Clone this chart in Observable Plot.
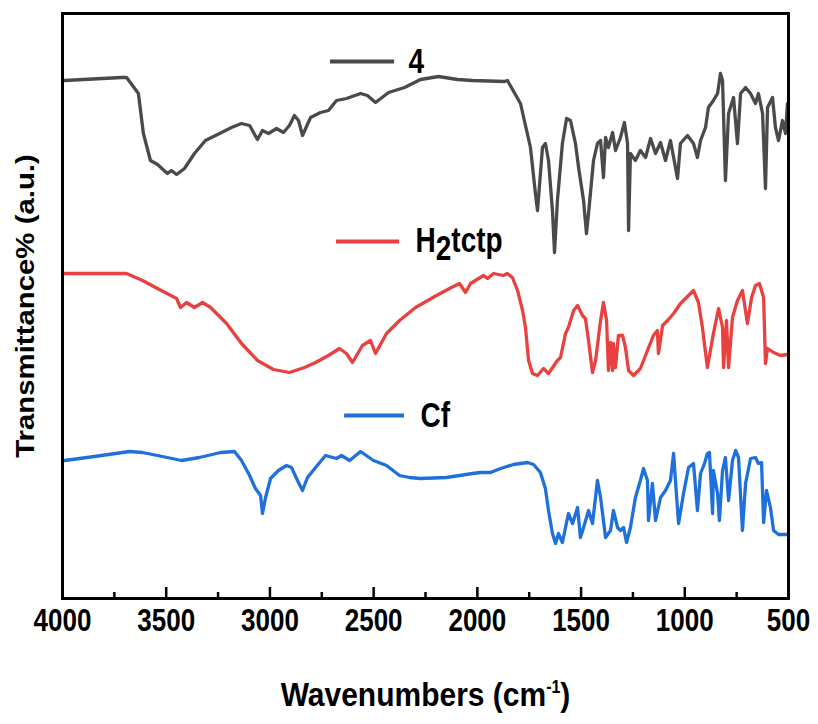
<!DOCTYPE html>
<html><head><meta charset="utf-8">
<script src="https://cdn.jsdelivr.net/npm/d3@7"></script>
<script src="https://cdn.jsdelivr.net/npm/@observablehq/plot@0.6"></script>
<style>
body{margin:0;background:#fff;}
#chart{width:818px;height:724px;}
</style></head><body><div id="chart"></div>
<script>
// ---- data (wavenumber cm-1, transmittance in arbitrary offset units) ----
const seriesNames = ["4", "H2tctp", "Cf"];
const seriesColors = ["#4a4a4a", "#e8413f", "#1f70db"];

const wn4 = [3990,3716,3691,3634,3610,3576,3542,3494,3475,3450,3412,3364,3311,3262,3185,3137,3098,3060,3036,3007,2968,2935,2906,2882,2862,2843,2804,2756,2718,2679,2631,2563,2530,2491,2428,2351,2274,2187,2096,2023,1869,1855,1792,1744,1720,1710,1686,1672,1657,1638,1628,1614,1590,1570,1551,1527,1512,1488,1474,1464,1440,1421,1406,1392,1382,1368,1348,1334,1310,1291,1276,1271,1262,1238,1214,1189,1165,1141,1117,1093,1069,1035,1021,987,958,939,924,900,886,862,842,828,818,804,789,765,746,731,707,683,659,645,625,611,601,577,563,548,529,514,505,500];
const t4 = [518,521,521,505,465,438,434,425,428,424,430,445,458,463,471,475,473,459,468,465,470,466,473,483,478,463,481,486,488,498,500,505,503,496,506,511,519,522,519,518,517,518,495,451,405,388,451,455,438,388,346,398,455,480,478,455,431,398,365,385,438,455,458,421,461,451,466,448,461,476,455,368,445,438,448,441,460,445,456,438,458,420,455,463,455,441,458,471,491,498,505,525,518,418,485,501,455,505,511,505,495,505,485,410,491,501,471,458,478,465,495,490];

const wnH = [3990,3691,3614,3542,3450,3431,3402,3364,3325,3286,3209,3137,3060,2983,2906,2833,2780,2718,2665,2631,2602,2554,2515,2491,2438,2375,2298,2197,2125,2086,2057,2033,1970,1951,1922,1874,1855,1831,1806,1782,1768,1753,1734,1710,1681,1657,1614,1599,1575,1561,1536,1517,1493,1479,1464,1445,1430,1406,1392,1377,1368,1358,1348,1344,1334,1320,1300,1286,1271,1247,1214,1180,1151,1132,1127,1107,1083,1054,1021,982,958,934,915,891,862,837,818,813,799,789,770,746,722,698,678,659,640,620,611,601,572,539,505,500];
const tH = [325,325,318,310,300,291,296,291,296,291,275,255,238,229,226,231,236,243,250,245,236,253,258,245,265,278,291,303,311,315,306,315,323,320,325,323,325,321,308,288,271,238,225,223,230,225,238,241,265,271,288,293,283,280,258,226,238,278,296,278,228,256,228,255,231,263,263,251,228,223,230,248,263,268,245,273,278,285,295,303,308,296,271,231,265,290,271,231,278,231,281,298,308,275,301,313,315,301,235,250,246,243,244,244];

const wnC = [3990,3846,3677,3614,3542,3426,3340,3238,3171,3137,3098,3070,3045,3036,3021,2997,2959,2920,2896,2867,2843,2819,2780,2732,2679,2655,2616,2563,2501,2438,2375,2327,2274,2149,2023,1985,1937,1888,1826,1758,1729,1696,1672,1657,1638,1623,1609,1590,1575,1561,1541,1517,1503,1488,1464,1445,1421,1406,1382,1358,1344,1324,1310,1295,1281,1262,1238,1214,1199,1180,1175,1156,1141,1117,1093,1069,1054,1045,1030,1006,982,958,939,924,905,891,881,866,862,842,833,818,804,789,770,755,741,722,707,683,659,645,630,620,606,587,572,548,505,500];
const tC = [138,142,147,146,143,138,141,146,147,138,123,110,103,85,101,120,128,133,131,118,108,121,131,143,140,143,138,147,138,133,123,121,120,121,125,126,126,130,134,136,134,126,110,88,65,55,65,56,71,85,75,91,61,71,88,75,118,101,61,68,88,71,68,71,56,71,101,118,130,118,78,115,78,101,108,118,145,118,75,105,131,135,88,125,135,145,146,85,128,105,78,128,141,98,138,148,141,68,115,140,141,135,136,76,108,91,68,64,64,64];

const majorTicks = [4000,3500,3000,2500,2000,1500,1000,500];
const minorTicks = [3750,3250,2750,2250,1750,1250,750];
const xTitle = "Wavenumbers (cm-1)";
const yTitle = "Transmittance% (a.u.)";

// ---- legend layout (placement in data coordinates) ----
const legendLineStart = [2708, 2679, 2640];
const legendLineEnd = [2399, 2375, 2351];
const legendTextX = [2332, 2298, 2274];
const legendY = [537, 357, 183];

// ---- build tables ----
function zipSeries(name, wn, t) {
  const n = Math.min(wn.length, t.length);
  const out = [];
  for (let i = 0; i < n; i++) out.push({series: name, wn: wn[i], t: t[i]});
  return out;
}
const rows = [
  ...zipSeries(seriesNames[0], wn4, t4),
  ...zipSeries(seriesNames[1], wnH, tH),
  ...zipSeries(seriesNames[2], wnC, tC)
];
const legendRows = seriesNames.map((s, i) => ({
  series: s, x1: legendLineStart[i], x2: legendLineEnd[i], tx: legendTextX[i], y: legendY[i]
}));

const W = 818, H = 724, mT = 13, mB = 126, mL = 62, mR = 30;
const innerH = H - mT - mB;
const FONT = "'Liberation Sans', Arial, Helvetica, sans-serif";

const svg = Plot.plot({
  width: W, height: H,
  marginTop: mT, marginBottom: mB, marginLeft: mL, marginRight: mR,
  style: {fontFamily: FONT, background: "white", color: "black"},
  x: {domain: [4000, 500]},
  y: {domain: [0, 585], axis: null},
  color: {domain: seriesNames, range: seriesColors},
  marks: [
    Plot.line(rows, {x: "wn", y: "t", z: "series", stroke: "series", strokeWidth: 3.3, strokeLinejoin: "round"}),
    Plot.ruleY(legendRows, {y: "y", x1: "x1", x2: "x2", stroke: "series", strokeWidth: 4}),
    Plot.text(legendRows, {x: "tx", y: "y", text: "series", textAnchor: "start", lineAnchor: "middle",
      fontSize: 28, fontWeight: "bold", fill: "black"}),
    Plot.tickX(majorTicks, {x: d => d, stroke: "black", strokeWidth: 2.5, insetTop: innerH - 11}),
    Plot.tickX(minorTicks, {x: d => d, stroke: "black", strokeWidth: 2.5, insetTop: innerH - 6}),
    Plot.axisX(majorTicks, {tickSize: 0, tickPadding: 12, tickFormat: d => String(d),
      fontSize: 26, fontWeight: "bold", fill: "black", label: null}),
    Plot.frame({stroke: "black", strokeWidth: 3}),
    Plot.text([xTitle], {frameAnchor: "bottom", dy: 97, text: d => d, lineAnchor: "middle",
      fontSize: 30, fontWeight: "bold", fill: "black"}),
    Plot.text([yTitle], {frameAnchor: "left", dx: -37, rotate: -90, text: d => d, lineAnchor: "middle",
      textAnchor: "middle", fontSize: 26, fontWeight: "bold", fill: "black"})
  ]
});
document.getElementById("chart").append(svg);

// rich text: subscript / superscript
const NS = "http://www.w3.org/2000/svg";
svg.querySelectorAll("text").forEach(t => {
  if (t.textContent === "H2tctp") {
    t.textContent = "H";
    const s = document.createElementNS(NS, "tspan");
    s.setAttribute("dy", "7"); s.textContent = "2";
    const r = document.createElementNS(NS, "tspan");
    r.setAttribute("dy", "-7"); r.textContent = "tctp";
    t.append(s, r);
    t.dataset.sy = "1.22";
  } else if (t.textContent === xTitle) {
    t.textContent = "Wavenumbers (cm";
    const s = document.createElementNS(NS, "tspan");
    s.setAttribute("dy", "-12"); s.setAttribute("font-size", "16"); s.textContent = "-1";
    const r = document.createElementNS(NS, "tspan");
    r.setAttribute("dy", "12"); r.textContent = ")";
    t.append(s, r);
    t.dataset.sy = "1.1";
  } else if (t.textContent === yTitle) {
    t.dataset.sy = "1.13";
  }
});

// the reference's lettering is stretched vertically
svg.querySelectorAll("text").forEach(t => {
  const sy = t.dataset.sy ? +t.dataset.sy : 1.22;
  const g = document.createElementNS(NS, "g");
  t.parentNode.insertBefore(g, t);
  g.appendChild(t);
  const b = g.getBBox();
  const cx = b.x + b.width / 2, cy = b.y + b.height / 2;
  g.setAttribute("transform", `translate(${cx},${cy}) scale(1,${sy}) translate(${-cx},${-cy})`);
});
</script>
</body></html>
